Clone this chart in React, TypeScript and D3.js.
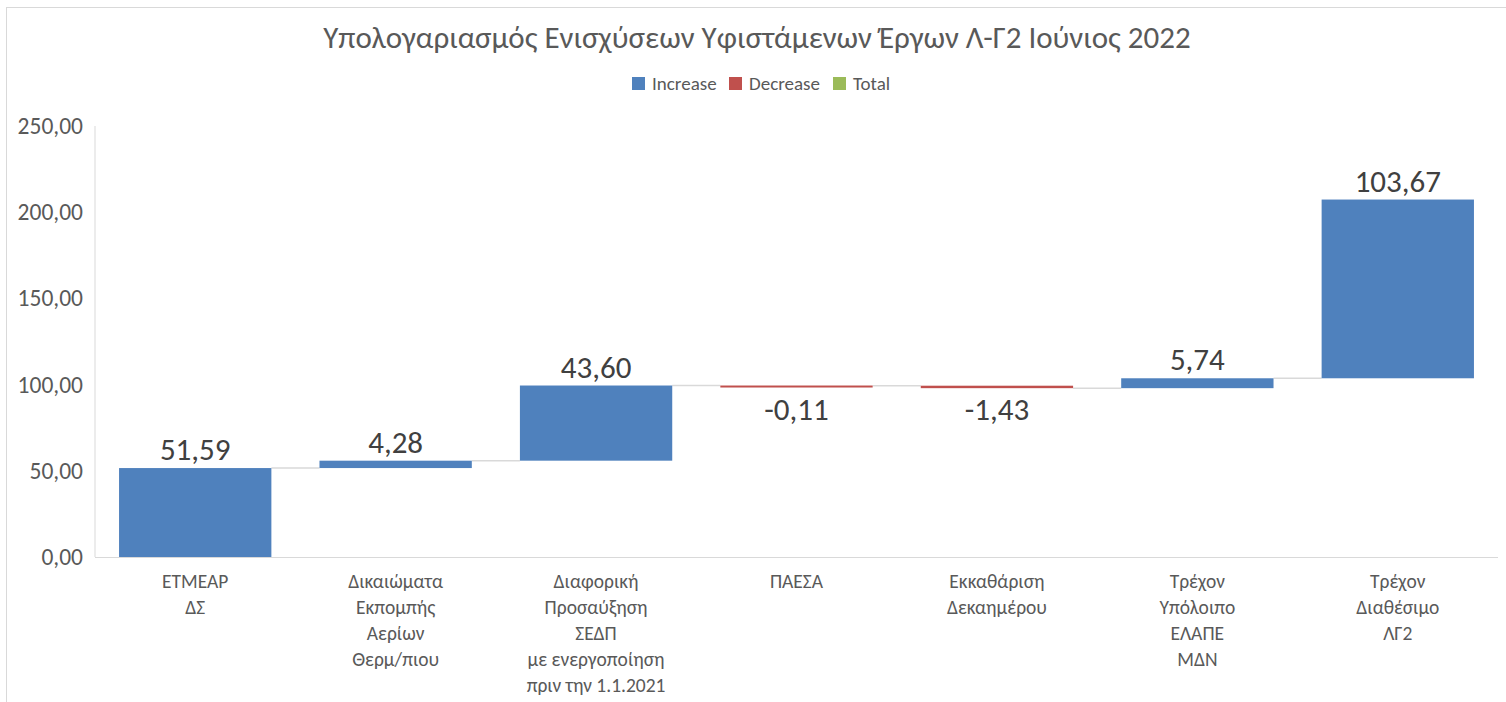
import React from "react";
import * as d3 from "d3";

// Waterfall: contributions to the Λ-Γ2 account, June 2022
const categories: string[][] = [
  ["ΕΤΜΕΑΡ", "ΔΣ"],
  ["Δικαιώματα", "Εκπομπής", "Αερίων", "Θερμ/πιου"],
  ["Διαφορική", "Προσαύξηση", "ΣΕΔΠ", "με ενεργοποίηση", "πριν την 1.1.2021"],
  ["ΠΑΕΣΑ"],
  ["Εκκαθάριση", "Δεκαημέρου"],
  ["Τρέχον", "Υπόλοιπο", "ΕΛΑΠΕ", "ΜΔΝ"],
  ["Τρέχον", "Διαθέσιμο", "ΛΓ2"],
];
const values: number[] = [51.59, 4.28, 43.6, -0.11, -1.43, 5.74, 103.67];
const yTicks: number[] = [0, 50, 100, 150, 200, 250];
const legendItems: string[] = ["Increase", "Decrease", "Total"];

const title = "Υπολογαριασμός Ενισχύσεων Υφιστάμενων Έργων Λ-Γ2 Ιούνιος 2022";

const W = 1506;
const H = 702;
const FONT = "Carlito, Calibri, 'Liberation Sans Narrow', 'Open Sans', sans-serif";
const COLORS: Record<string, string> = {
  Increase: "#4f81bd",
  Decrease: "#c0504d",
  Total: "#9bbb59",
};

const fmt = (v: number) => v.toFixed(2).replace(".", ",");

export default function App() {
  const left = 95;
  const right = 1498;
  const top = 126;
  const bottom = 557;

  const keys = categories.map((_, i) => String(i));
  const x = d3.scaleBand<string>().domain(keys).range([left, right]).paddingInner(0.24).paddingOuter(0.12);
  const y = d3.scaleLinear().domain([0, 250]).range([bottom, top]);

  // running totals for each step
  let run = 0;
  const steps = values.map((v, i) => {
    const start = run;
    run += v;
    return { key: keys[i], v, start, end: run };
  });

  return (
    <svg
      width={W}
      height={H}
      style={{ position: "absolute", left: 0, top: 0, background: "#fff", fontFamily: FONT }}
    >
      {/* chart frame (top and left edges) */}
      <line x1={6.5} x2={W} y1={7.5} y2={7.5} stroke="#d9d9d9" />
      <line x1={6.5} x2={6.5} y1={7} y2={H} stroke="#d9d9d9" />

      <text x={757} y={48} textAnchor="middle" fontSize={31} fill="#595959">
        {title}
      </text>

      {/* legend */}
      {legendItems.map((k, i) => {
        const lx = [632, 729, 833][i];
        return (
          <g key={k}>
            <rect x={lx} y={77} width={13} height={13} fill={COLORS[k]} />
            <text x={lx + 20} y={90} fontSize={19} fill="#595959">
              {k}
            </text>
          </g>
        );
      })}

      {/* axes */}
      <line x1={left} x2={left} y1={top} y2={bottom} stroke="#d9d9d9" strokeWidth={1} />
      <line x1={left} x2={right} y1={bottom + 0.5} y2={bottom + 0.5} stroke="#d9d9d9" strokeWidth={1} />
      {yTicks.map((t) => (
        <text key={t} x={83} y={y(t) + 8} textAnchor="end" fontSize={23.5} fill="#595959">
          {fmt(t)}
        </text>
      ))}

      {/* connectors */}
      {steps.slice(0, -1).map((s, i) => {
        const next = steps[i + 1];
        return (
          <line
            key={"c" + i}
            x1={(x(s.key) as number) + x.bandwidth()}
            x2={x(next.key) as number}
            y1={y(s.end)}
            y2={y(s.end)}
            stroke="#d9d9d9"
            strokeWidth={1.5}
          />
        );
      })}

      {/* bars */}
      {steps.map((s) => {
        const y0 = y(Math.max(s.start, s.end));
        const y1 = y(Math.min(s.start, s.end));
        const h = Math.max(y1 - y0, 2);
        const color = s.v >= 0 ? COLORS.Increase : COLORS.Decrease;
        const cx = (x(s.key) as number) + x.bandwidth() / 2;
        return (
          <g key={"b" + s.key}>
            <rect x={x(s.key)} y={y0} width={x.bandwidth()} height={h} fill={color} />
            <text
              x={cx}
              y={s.v >= 0 ? y0 - 8 : y0 + h + 32}
              textAnchor="middle"
              fontSize={31}
              fill="#404040"
            >
              {fmt(s.v)}
            </text>
          </g>
        );
      })}

      {/* category labels */}
      {categories.map((lines, i) => {
        const cx = (x(keys[i]) as number) + x.bandwidth() / 2;
        return (
          <text key={"l" + i} textAnchor="middle" fontSize={19.5} fill="#595959">
            {lines.map((ln, j) => (
              <tspan key={j} x={cx} y={588 + j * 26}>
                {ln}
              </tspan>
            ))}
          </text>
        );
      })}
    </svg>
  );
}
